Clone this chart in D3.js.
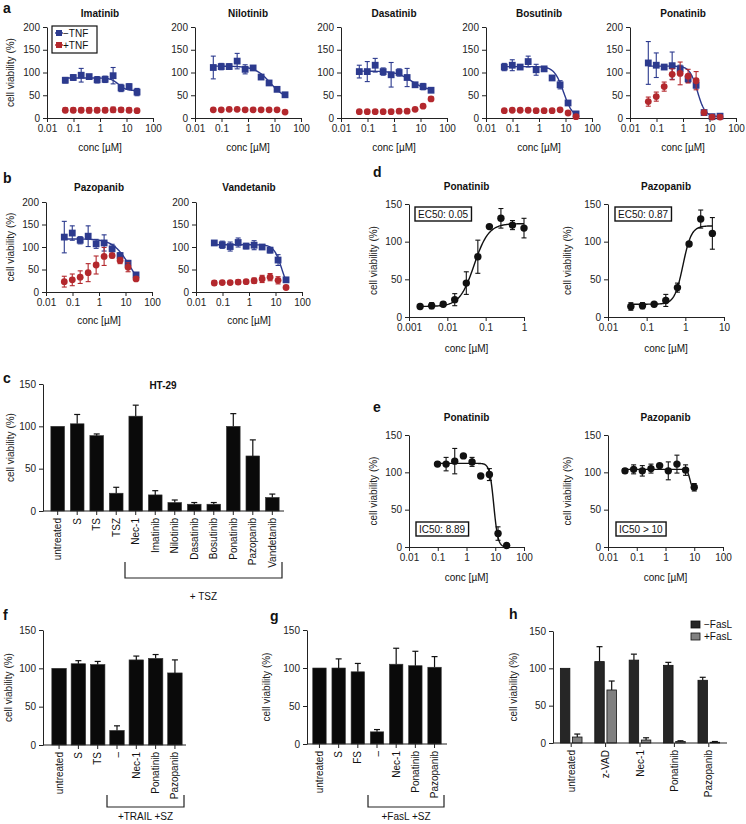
<!DOCTYPE html>
<html>
<head>
<meta charset="utf-8">
<script src="https://cdn.jsdelivr.net/npm/d3@7"></script>
<style>
  body { margin: 0; background: #fff; }
  svg { font-family: "Liberation Sans", Arial, sans-serif; }
  .axis text { font-size: 10px; fill: #222; font-family: "Liberation Sans", Arial, sans-serif; }
  .axis path, .axis line { stroke: #222; stroke-width: 1; }
</style>
</head>
<body>
<svg id="fig" width="746" height="824"></svg>
<script>
// ---- panel a / b : dose response, -TNF (blue) vs +TNF (red)
const concA = [0.049, 0.098, 0.195, 0.39, 0.78, 1.56, 3.125, 6.25, 12.5, 25];

const imatinibNeg = [83, 89, 94, 91, 84, 85, 93, 66, 69, 57];
const imatinibNegErr = [6, 6, 15, 3, 7, 7, 18, 8, 6, 8];
const imatinibPos = [17, 17, 17, 17, 17, 17, 18, 18, 17, 16];
const imatinibPosErr = [5, 5, 5, 6, 5, 5, 6, 5, 5, 3];

const nilotinibNeg = [111, 113, 113, 125, 107, 110, 90, 77, 63, 51];
const nilotinibNegErr = [25, 7, 6, 17, 10, 3, 5, 5, 3, 5];
const nilotinibPos = [18, 18, 19, 19, 18, 18, 18, 18, 18, 13];
const nilotinibPosErr = [2, 2, 2, 2, 2, 2, 2, 2, 2, 2];

const dasatinibNeg = [102, 102, 116, 102, 95, 100, 89, 73, 69, 61];
const dasatinibNegErr = [14, 22, 15, 8, 27, 8, 20, 4, 7, 3];
const dasatinibPos = [14, 14, 14, 14, 14, 15, 15, 19, 26, 42];
const dasatinibPosErr = [2, 2, 2, 2, 2, 2, 2, 2, 3, 4];

const bosutinibNeg = [112, 116, 112, 124, 106, 108, 88, 73, 33, 9];
const bosutinibNegErr = [8, 12, 5, 12, 12, 3, 4, 9, 4, 5];
const bosutinibPos = [16, 17, 17, 17, 16, 16, 16, 18, 11, 3];
const bosutinibPosErr = [2, 2, 2, 2, 2, 2, 2, 2, 2, 2];

const ponatinibNeg = [121, 116, 112, 115, 108, 86, 72, 12, 3, 4];
const ponatinibNegErr = [47, 27, 3, 30, 8, 8, 6, 4, 2, 3];
const ponatinibPos = [36, 47, 69, 96, 98, 92, 82, 12, 2, 2];
const ponatinibPosErr = [10, 10, 10, 12, 25, 15, 20, 5, 2, 2];

const pazopanibNeg = [122, 131, 115, 124, 107, 109, 96, 81, 64, 38];
const pazopanibNegErr = [35, 16, 8, 23, 10, 18, 10, 6, 6, 3];
const pazopanibPos = [23, 27, 33, 43, 60, 79, 81, 70, 55, 29];
const pazopanibPosErr = [12, 13, 14, 20, 20, 20, 5, 7, 10, 3];

const vandetanibNeg = [109, 105, 101, 110, 102, 104, 100, 93, 71, 27];
const vandetanibNegErr = [5, 8, 10, 10, 6, 10, 5, 6, 12, 3];
const vandetanibPos = [20, 21, 21, 22, 23, 25, 29, 33, 26, 10];
const vandetanibPosErr = [5, 3, 3, 5, 3, 6, 8, 8, 8, 3];

// fitted curves: [start, end, EC50, hill]
const imatinibFit = [88, 60, 5, 3];
const nilotinibFit = [114, 40, 7, 1.5];
const dasatinibFit = [103, 60, 4.5, 1.5];
const bosutinibFit = [113, 0, 8.5, 2.5];
const ponatinibFit = [114, 3, 3.5, 3];
const pazopanibFit = [118, 0, 14, 1.4];
const vandetanibFit = [105, 0, 17, 3];

// ---- panel d : rescue (EC50)
const concDPon = [0.00195, 0.0039, 0.0078, 0.0156, 0.03125, 0.0625, 0.125, 0.25, 0.5, 1];
const dPonVals = [14, 15, 17, 23, 45, 80, 120, 131, 122, 118];
const dPonErr = [2, 4, 3, 8, 15, 22, 2, 13, 6, 13];
const dPonFit = [14, 124, 0.05, 2.3];

const concDPaz = [0.039, 0.078, 0.156, 0.3125, 0.625, 1.25, 2.5, 5];
const dPazVals = [14, 15, 17, 22, 39, 97, 130, 111];
const dPazErr = [5, 4, 2, 8, 6, 2, 12, 21];
const dPazFit = [17, 121, 0.87, 4];

// ---- panel e : toxicity (IC50)
const concEPon = [0.098, 0.195, 0.39, 0.78, 1.56, 3.125, 6.25, 12.5, 25];
const ePonVals = [111, 111, 115, 122, 114, 95, 97, 18, 2];
const ePonErr = [3, 9, 17, 2, 6, 2, 8, 9, 1];
const ePonFit = [112, 0, 8.89, 6];

const concEPaz = [0.039, 0.078, 0.156, 0.3125, 0.625, 1.25, 2.5, 5, 10];
const ePazVals = [102, 104, 102, 105, 109, 102, 111, 103, 80];
const ePazErr = [3, 6, 7, 6, 2, 12, 12, 7, 5];
const ePazFit = [104, 78, 7, 10];

// ---- panel c : HT-29 bars
const catsC = ["untreated", "S", "TS", "TSZ", "Nec-1", "Imatinib", "Nilotinib", "Dasatinib", "Bosutinib", "Ponatinib", "Pazopanib", "Vandetanib"];
const valsC = [100, 103, 89, 21, 112, 19, 10, 8, 8, 100, 65, 16];
const errC = [0, 11, 2, 7, 13, 5, 3, 2, 2, 15, 19, 4];

// ---- panel f : TRAIL
const catsF = ["untreated", "S", "TS", "\u2013", "Nec-1", "Ponatinib", "Pazopanib"];
const valsF = [100, 106, 105, 19, 111, 113, 94];
const errF = [0, 4, 4, 6, 5, 5, 17];

// ---- panel g : FasL
const catsG = ["untreated", "S", "FS", "\u2013", "Nec-1", "Ponatinib", "Pazopanib"];
const valsG = [100, 100, 95, 16, 105, 103, 101];
const errG = [0, 12, 11, 3, 21, 19, 14];

// ---- panel h : -FasL / +FasL
const catsH = ["untreated", "z-VAD", "Nec-1", "Ponatinib", "Pazopanib"];
const minusFasL = [100, 109, 111, 104, 84];
const minusFasLErr = [0, 20, 8, 4, 4];
const plusFasL = [8, 71, 4, 2, 1];
const plusFasLErr = [4, 12, 3, 1, 1];

const BLUE = "#2c3a8e";
const RED = "#b3282d";
const svg = d3.select("#fig");
svg.append("rect").attr("width", 746).attr("height", 824).attr("fill", "#fff");

function hill(p, c) {
    return p[0] + (p[1] - p[0]) / (1 + Math.pow(p[2] / c, p[3]));
}

function txt(x, y, s, size, bold, anchor) {
    return svg.append("text").attr("x", x).attr("y", y).text(s)
        .attr("font-size", size).attr("font-weight", bold ? "bold" : "normal")
        .attr("text-anchor", anchor || "middle").attr("fill", "#111");
}

function yLabel(x, yc) {
    svg.append("text").attr("transform", `translate(${x},${yc}) rotate(-90)`)
        .attr("text-anchor", "middle").attr("font-size", 10).attr("fill", "#222")
        .text("cell viability (%)");
}

function dosePlot(o) {
    const x = d3.scaleLog().domain(o.xd).range([o.x0, o.x1]);
    const y = d3.scaleLinear().domain(o.yd).range([o.y0, o.y1]);
    const g = svg.append("g");

    g.append("g").attr("class", "axis").attr("transform", `translate(0,${o.y0})`)
        .call(d3.axisBottom(x).tickValues(o.xticks).tickFormat(d => String(d))
            .tickSize(4).tickSizeOuter(0).tickPadding(3));
    g.append("g").attr("class", "axis").attr("transform", `translate(${o.x0},0)`)
        .call(d3.axisLeft(y).tickValues(o.yticks).tickSize(4).tickSizeOuter(0).tickPadding(3));

    txt((o.x0 + o.x1) / 2, o.titleY, o.title, 10, true);
    txt((o.x0 + o.x1) / 2, o.xlabY, "conc [\u00b5M]", 10, false);
    if (o.ylab != null) yLabel(o.ylab, (o.y0 + o.y1) / 2);

    o.series.forEach(s => {
        if (s.fit) {
            const c0 = s.conc[0], c1 = s.conc[s.conc.length - 1];
            const pts = d3.range(0, 121).map(i => c0 * Math.pow(c1 / c0, i / 120));
            g.append("path")
                .attr("d", d3.line().x(c => x(c)).y(c => y(hill(s.fit, c)))(pts))
                .attr("fill", "none").attr("stroke", s.color).attr("stroke-width", 1.4);
        }
        const pts = s.conc.map((c, i) => ({c, v: s.v[i], e: s.e[i]}));
        const eb = g.append("g").attr("stroke", s.color).attr("stroke-width", 1.1);
        pts.forEach(p => {
            const xx = x(p.c);
            eb.append("line").attr("x1", xx).attr("x2", xx).attr("y1", y(p.v - p.e)).attr("y2", y(p.v + p.e));
            [p.v - p.e, p.v + p.e].forEach(v => {
                eb.append("line").attr("x1", xx - 2.5).attr("x2", xx + 2.5).attr("y1", y(v)).attr("y2", y(v));
            });
        });
        if (s.shape === "square") {
            g.selectAll(null).data(pts).join("rect")
                .attr("x", p => x(p.c) - 3.4).attr("y", p => y(p.v) - 3.4)
                .attr("width", 6.8).attr("height", 6.8).attr("fill", s.color);
        } else {
            g.selectAll(null).data(pts).join("circle")
                .attr("cx", p => x(p.c)).attr("cy", p => y(p.v))
                .attr("r", s.r || 3.4).attr("fill", s.color);
        }
    });

    if (o.box) {
        const t = g.append("text").attr("x", o.box[0] + 3).attr("y", o.box[1] + 11)
            .attr("font-size", 10).attr("fill", "#111").text(o.box[2]);
        const b = t.node().getBBox();
        g.append("rect").attr("x", o.box[0]).attr("y", o.box[1])
            .attr("width", b.width + 6).attr("height", 14)
            .attr("fill", "none").attr("stroke", "#111").attr("stroke-width", 1.4);
    }
}

// panel a
const panelA = [
    {name: "Imatinib", neg: imatinibNeg, negErr: imatinibNegErr, pos: imatinibPos, posErr: imatinibPosErr, fit: imatinibFit, x0: 47},
    {name: "Nilotinib", neg: nilotinibNeg, negErr: nilotinibNegErr, pos: nilotinibPos, posErr: nilotinibPosErr, fit: nilotinibFit, x0: 195},
    {name: "Dasatinib", neg: dasatinibNeg, negErr: dasatinibNegErr, pos: dasatinibPos, posErr: dasatinibPosErr, fit: dasatinibFit, x0: 341},
    {name: "Bosutinib", neg: bosutinibNeg, negErr: bosutinibNegErr, pos: bosutinibPos, posErr: bosutinibPosErr, fit: bosutinibFit, x0: 486},
    {name: "Ponatinib", neg: ponatinibNeg, negErr: ponatinibNegErr, pos: ponatinibPos, posErr: ponatinibPosErr, fit: ponatinibFit, x0: 630}
];
const panelB = [
    {name: "Pazopanib", neg: pazopanibNeg, negErr: pazopanibNegErr, pos: pazopanibPos, posErr: pazopanibPosErr, fit: pazopanibFit, x0: 46},
    {name: "Vandetanib", neg: vandetanibNeg, negErr: vandetanibNegErr, pos: vandetanibPos, posErr: vandetanibPosErr, fit: vandetanibFit, x0: 196}
];

function tnfRow(list, y0, y1, titleY, xlabY) {
    list.forEach((d, i) => {
        dosePlot({
            x0: d.x0, x1: d.x0 + 106, y0, y1,
            xd: [0.01, 100], yd: [0, 200],
            xticks: [0.01, 0.1, 1, 10, 100], yticks: [0, 50, 100, 150, 200],
            title: d.name, titleY, xlabY, ylab: i === 0 ? 14 : null,
            series: [
                {conc: concA, v: d.neg, e: d.negErr, color: BLUE, shape: "square", fit: d.fit},
                {conc: concA, v: d.pos, e: d.posErr, color: RED, shape: "circle"}
            ]
        });
    });
}
tnfRow(panelA, 118, 27, 17, 151);
tnfRow(panelB, 292, 202, 191, 324);

// legend in a
const lg = svg.append("g");
lg.append("rect").attr("x", 52).attr("y", 26).attr("width", 45).attr("height", 27)
    .attr("fill", "#fff").attr("stroke", "#111").attr("stroke-width", 1.2);
[["\u2212TNF", BLUE, 33], ["+TNF", RED, 45]].forEach(([lab, col, yy]) => {
    lg.append("line").attr("x1", 55).attr("x2", 63).attr("y1", yy).attr("y2", yy)
        .attr("stroke", col).attr("stroke-width", 1.4);
    lg.append("rect").attr("x", 56).attr("y", yy - 3).attr("width", 6).attr("height", 6).attr("fill", col);
    lg.append("text").attr("x", 63).attr("y", yy + 3.5).attr("font-size", 10).attr("fill", "#111").text(lab);
});

// panel d
dosePlot({
    x0: 409, x1: 524, y0: 317, y1: 204, xd: [0.001, 1], yd: [0, 150],
    xticks: [0.001, 0.01, 0.1, 1], yticks: [0, 50, 100, 150],
    title: "Ponatinib", titleY: 190, xlabY: 352, ylab: 377,
    series: [{conc: concDPon, v: dPonVals, e: dPonErr, color: "#111", shape: "circle", r: 3.7, fit: dPonFit}],
    box: [415, 207, "EC50: 0.05"]
});
dosePlot({
    x0: 608, x1: 724, y0: 317, y1: 204, xd: [0.01, 10], yd: [0, 150],
    xticks: [0.01, 0.1, 1, 10], yticks: [0, 50, 100, 150],
    title: "Pazopanib", titleY: 190, xlabY: 352, ylab: 571,
    series: [{conc: concDPaz, v: dPazVals, e: dPazErr, color: "#111", shape: "circle", r: 3.7, fit: dPazFit}],
    box: [615, 207, "EC50: 0.87"]
});

// panel e
dosePlot({
    x0: 409, x1: 524, y0: 547, y1: 435, xd: [0.01, 100], yd: [0, 150],
    xticks: [0.01, 0.1, 1, 10, 100], yticks: [0, 50, 100, 150],
    title: "Ponatinib", titleY: 421, xlabY: 581, ylab: 377,
    series: [{conc: concEPon, v: ePonVals, e: ePonErr, color: "#111", shape: "circle", r: 3.7, fit: ePonFit}],
    box: [416, 522, "IC50: 8.89"]
});
dosePlot({
    x0: 608, x1: 723, y0: 547, y1: 435, xd: [0.01, 100], yd: [0, 150],
    xticks: [0.01, 0.1, 1, 10, 100], yticks: [0, 50, 100, 150],
    title: "Pazopanib", titleY: 421, xlabY: 581, ylab: 571,
    series: [{conc: concEPaz, v: ePazVals, e: ePazErr, color: "#111", shape: "circle", r: 3.7, fit: ePazFit}],
    box: [616, 522, "IC50 > 10"]
});

// ---- bar charts
function barAxes(o, y) {
    svg.append("g").attr("class", "axis").attr("transform", `translate(${o.ax},0)`)
        .call(d3.axisLeft(y).tickValues([0, 50, 100, 150]).tickSize(4).tickSizeOuter(0).tickPadding(3));
    svg.append("line").attr("x1", o.ax).attr("x2", o.axEnd).attr("y1", o.y0).attr("y2", o.y0)
        .attr("stroke", "#222").attr("stroke-width", 1);
    yLabel(o.ylab, (o.y0 + o.y1) / 2);
}

function catLabels(cats, cx, y0) {
    cats.forEach((c, i) => {
        const xx = cx(c);
        svg.append("line").attr("x1", xx).attr("x2", xx).attr("y1", y0).attr("y2", y0 + 4)
            .attr("stroke", "#222");
        svg.append("text").attr("transform", `translate(${xx + 3.5},${y0 + 7}) rotate(-90)`)
            .attr("text-anchor", "end").attr("font-size", 10).attr("fill", "#111").text(c);
    });
}

function errUp(xx, yTop, yErr, w) {
    svg.append("line").attr("x1", xx).attr("x2", xx).attr("y1", yTop).attr("y2", yErr)
        .attr("stroke", "#111").attr("stroke-width", 1.2);
    svg.append("line").attr("x1", xx - w).attr("x2", xx + w).attr("y1", yErr).attr("y2", yErr)
        .attr("stroke", "#111").attr("stroke-width", 1.2);
}

function barPlot(o) {
    const x = d3.scaleBand().domain(o.cats).range(o.band).padding(o.pad);
    const y = d3.scaleLinear().domain([0, 150]).range([o.y0, o.y1]);
    const cx = c => x(c) + x.bandwidth() / 2;
    o.cats.forEach((c, i) => {
        svg.append("rect").attr("x", x(c)).attr("y", y(o.vals[i]))
            .attr("width", x.bandwidth()).attr("height", o.y0 - y(o.vals[i]))
            .attr("fill", "#0a0a0a").attr("stroke", "#333").attr("stroke-width", 0.6);
        if (o.errs[i] > 0) errUp(cx(c), y(o.vals[i]), y(o.vals[i] + o.errs[i]), 3);
    });
    barAxes(o, y);
    catLabels(o.cats, cx, o.y0);
}

function bracket(x1, x2, yTop, yBot, label, labY) {
    svg.append("path").attr("d", `M${x1},${yTop}V${yBot}H${x2}V${yTop}`)
        .attr("fill", "none").attr("stroke", "#222").attr("stroke-width", 1.2);
    txt((x1 + x2) / 2, labY, label, 10, false);
}

// c
barPlot({cats: catsC, vals: valsC, errs: errC, band: [45, 285], pad: 0.3,
    y0: 511, y1: 384, ax: 43, axEnd: 284, ylab: 14});
txt(163, 389, "HT-29", 10, true);
bracket(125, 282, 562, 578, "+ TSZ", 600);

// f
barPlot({cats: catsF, vals: valsF, errs: errF, band: [47, 187], pad: 0.25,
    y0: 745, y1: 630, ax: 43, axEnd: 186, ylab: 12});
bracket(107, 184, 795, 807, "+TRAIL +SZ", 820);

// g
barPlot({cats: catsG, vals: valsG, errs: errG, band: [307, 447], pad: 0.3,
    y0: 744, y1: 630, ax: 307, axEnd: 447, ylab: 270});
bracket(368, 444, 795, 807, "+FasL +SZ", 820);

// h grouped
(function () {
    const o = {y0: 743, y1: 631, ax: 553, axEnd: 727, ylab: 517};
    const x0 = d3.scaleBand().domain(catsH).range([554, 726]);
    const x1 = d3.scaleBand().domain(["neg", "pos"]).range([3.7, 30.7]).padding(0.22);
    const y = d3.scaleLinear().domain([0, 150]).range([o.y0, o.y1]);
    const series = [
        {key: "neg", vals: minusFasL, errs: minusFasLErr, fill: "#262626"},
        {key: "pos", vals: plusFasL, errs: plusFasLErr, fill: "#808080"}
    ];
    series.forEach(s => {
        catsH.forEach((c, i) => {
            const bx = x0(c) + x1(s.key);
            svg.append("rect").attr("x", bx).attr("y", y(s.vals[i]))
                .attr("width", x1.bandwidth()).attr("height", o.y0 - y(s.vals[i]))
                .attr("fill", s.fill).attr("stroke", "#111").attr("stroke-width", 0.8);
            if (s.errs[i] > 0) errUp(bx + x1.bandwidth() / 2, y(s.vals[i]), y(s.vals[i] + s.errs[i]), 3);
        });
    });
    barAxes(o, y);
    catLabels(catsH, c => x0(c) + x0.bandwidth() / 2, o.y0);
    [["\u2212FasL", "#262626", 621], ["+FasL", "#808080", 633]].forEach(([lab, col, yy]) => {
        svg.append("rect").attr("x", 691).attr("y", yy).attr("width", 9).attr("height", 7)
            .attr("fill", col).attr("stroke", "#111").attr("stroke-width", 0.8);
        svg.append("text").attr("x", 704).attr("y", yy + 7).attr("font-size", 10).attr("fill", "#111").text(lab);
    });
})();

// panel letters
[["a", 3, 13], ["b", 3, 183], ["c", 3, 383], ["d", 373, 177], ["e", 373, 412],
 ["f", 3, 620], ["g", 270, 621], ["h", 509, 619]].forEach(([l, x, y]) => txt(x, y, l, 14, true, "start"));
</script>
</body>
</html>
